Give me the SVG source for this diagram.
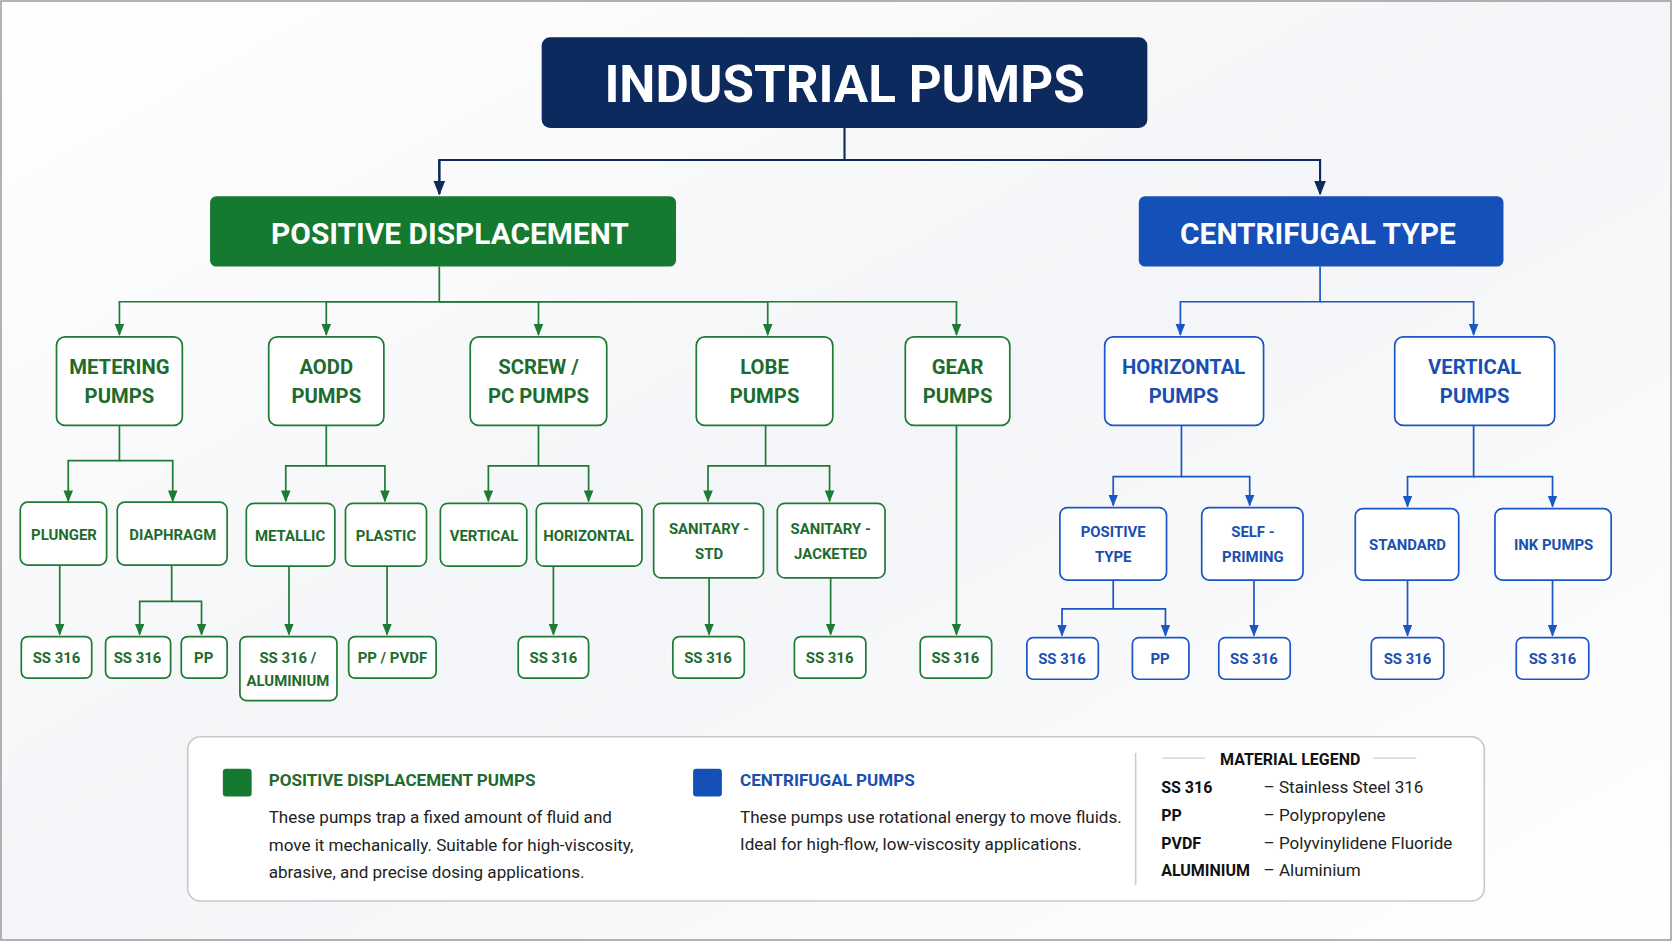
<svg xmlns="http://www.w3.org/2000/svg" width="1672" height="941" viewBox="0 0 1672 941">
<defs>
<marker id="ag" viewBox="0 0 10 10" refX="9" refY="5" markerWidth="7" markerHeight="7" orient="auto"><path d="M0,1 L10,5 L0,9 z" fill="#1e7a34"/></marker>
<marker id="ab" viewBox="0 0 10 10" refX="9" refY="5" markerWidth="7" markerHeight="7" orient="auto"><path d="M0,1 L10,5 L0,9 z" fill="#1a56c4"/></marker>
<marker id="an" viewBox="0 0 10 10" refX="9" refY="5" markerWidth="7" markerHeight="7" orient="auto"><path d="M0,1 L10,5 L0,9 z" fill="#0d2a5e"/></marker>
<linearGradient id="bg" x1="0" y1="0" x2="1" y2="1"><stop offset="0" stop-color="#ffffff"/><stop offset="0.5" stop-color="#f4f5f8"/><stop offset="1" stop-color="#ffffff"/></linearGradient>
</defs>
<style>
text{font-family:Roboto,"Liberation Sans",sans-serif}
.g rect{fill:#fff;stroke:#1e7a34;stroke-width:1.6}
.g text{fill:#1e6b2e;font-weight:bold;font-size:14px;text-anchor:middle}
.g.l2 text{font-size:19px}
.b rect{fill:#fff;stroke:#1a56c4;stroke-width:1.6}
.b text{fill:#1a4fb0;font-weight:bold;font-size:14px;text-anchor:middle}
.b.l2 text{font-size:19px}
.cg{fill:none;stroke:#1e7a34;stroke-width:1.6}
.cb{fill:none;stroke:#1a56c4;stroke-width:1.6}
.cn{fill:none;stroke:#0d2a5e;stroke-width:2}
.lt{font-size:16px;fill:#222}
.lk{font-size:15px;fill:#111;font-weight:bold}
</style>
<rect width="1672" height="941" fill="url(#bg)"/>
<rect x="1" y="1" width="1670" height="939" fill="none" stroke="#999" stroke-width="1.5"/>
<g transform="scale(1.0663)">
<g id="connectors">
<path class="cn" d="M792,120 V150 H412 V182 M792,150 H1238 V182" marker-end="url(#an)"/>
<path class="cn" d="M412,150 V182" marker-end="url(#an)"/>
<g class="cg" marker-end="url(#ag)">
<path d="M412,250 V283 H112 V314"/><path d="M412,283 H306 V314"/><path d="M412,283 H505 V314"/><path d="M412,283 H720 V314"/><path d="M412,283 H897 V314"/>
<path d="M112,399 V432 H64 V470"/><path d="M112,432 H162 V470"/>
<path d="M306,399 V437 H268 V470"/><path d="M306,437 H361 V470"/>
<path d="M505,399 V437 H458 V470"/><path d="M505,437 H552 V470"/>
<path d="M718,399 V437 H664 V470"/><path d="M718,437 H778 V470"/>
<path d="M897,399 V595"/>
<path d="M56,530 V595"/><path d="M161,530 V564 H131 V595"/><path d="M161,564 H189 V595"/>
<path d="M271,531 V595"/><path d="M363,531 V595"/><path d="M519,531 V595"/>
<path d="M665,542 V595"/><path d="M779,542 V595"/>
</g>
<g class="cb" marker-end="url(#ab)">
<path d="M1238,250 V283 H1107 V314"/><path d="M1238,283 H1382 V314"/>
<path d="M1108,399 V447 H1044 V474"/><path d="M1108,447 H1172 V474"/>
<path d="M1382,399 V447 H1320 V475"/><path d="M1382,447 H1456 V475"/>
<path d="M1044,544 V571 H996 V596"/><path d="M1044,571 H1093 V596"/>
<path d="M1176,544 V596"/><path d="M1320,544 V596"/><path d="M1456,544 V596"/>
</g>
</g>
<g id="title"><rect x="508" y="35" width="568" height="85" rx="8" fill="#0d2a5e"/><text x="792" y="96" text-anchor="middle" fill="#fff" font-weight="bold" font-size="48">INDUSTRIAL PUMPS</text></g>
<g id="pd"><rect x="197" y="184" width="437" height="66" rx="6" fill="#157a30"/><text x="422" y="229" text-anchor="middle" fill="#fff" font-weight="bold" font-size="28">POSITIVE DISPLACEMENT</text></g>
<g id="ct"><rect x="1068" y="184" width="342" height="66" rx="6" fill="#1450b8"/><text x="1236" y="229" text-anchor="middle" fill="#fff" font-weight="bold" font-size="28">CENTRIFUGAL TYPE</text></g>
<g id="metering" class="g l2"><rect x="53" y="316" width="118" height="83" rx="8"/><text x="112" y="351">METERING</text><text x="112" y="378">PUMPS</text></g>
<g id="aodd" class="g l2"><rect x="252" y="316" width="108" height="83" rx="8"/><text x="306" y="351">AODD</text><text x="306" y="378">PUMPS</text></g>
<g id="screw" class="g l2"><rect x="441" y="316" width="128" height="83" rx="8"/><text x="505" y="351">SCREW /</text><text x="505" y="378">PC PUMPS</text></g>
<g id="lobe" class="g l2"><rect x="653" y="316" width="128" height="83" rx="8"/><text x="717" y="351">LOBE</text><text x="717" y="378">PUMPS</text></g>
<g id="gear" class="g l2"><rect x="849" y="316" width="98" height="83" rx="8"/><text x="898" y="351">GEAR</text><text x="898" y="378">PUMPS</text></g>
<g id="horizontal" class="b l2"><rect x="1036" y="316" width="149" height="83" rx="8"/><text x="1110" y="351">HORIZONTAL</text><text x="1110" y="378">PUMPS</text></g>
<g id="vertical" class="b l2"><rect x="1308" y="316" width="150" height="83" rx="8"/><text x="1383" y="351">VERTICAL</text><text x="1383" y="378">PUMPS</text></g>
<g id="plunger" class="g"><rect x="19" y="471" width="81" height="59" rx="7"/><text x="60" y="506">PLUNGER</text></g>
<g id="diaphragm" class="g"><rect x="110" y="471" width="103" height="59" rx="7"/><text x="162" y="506">DIAPHRAGM</text></g>
<g id="metallic" class="g"><rect x="231" y="472" width="83" height="59" rx="7"/><text x="272" y="507">METALLIC</text></g>
<g id="plastic" class="g"><rect x="324" y="472" width="76" height="59" rx="7"/><text x="362" y="507">PLASTIC</text></g>
<g id="vert-screw" class="g"><rect x="413" y="472" width="81" height="59" rx="7"/><text x="454" y="507">VERTICAL</text></g>
<g id="horiz-screw" class="g"><rect x="503" y="472" width="99" height="59" rx="7"/><text x="552" y="507">HORIZONTAL</text></g>
<g id="san-std" class="g"><rect x="613" y="472" width="103" height="70" rx="7"/><text x="665" y="501">SANITARY -</text><text x="665" y="524">STD</text></g>
<g id="san-jack" class="g"><rect x="729" y="472" width="101" height="70" rx="7"/><text x="779" y="501">SANITARY -</text><text x="779" y="524">JACKETED</text></g>
<g id="pos-type" class="b"><rect x="994" y="476" width="100" height="68" rx="7"/><text x="1044" y="504">POSITIVE</text><text x="1044" y="527">TYPE</text></g>
<g id="self-prim" class="b"><rect x="1127" y="476" width="95" height="68" rx="7"/><text x="1175" y="504">SELF -</text><text x="1175" y="527">PRIMING</text></g>
<g id="standard" class="b"><rect x="1271" y="477" width="97" height="67" rx="7"/><text x="1320" y="516">STANDARD</text></g>
<g id="ink" class="b"><rect x="1402" y="477" width="109" height="67" rx="7"/><text x="1457" y="516">INK PUMPS</text></g>
<g id="m1" class="g"><rect x="20" y="597" width="66" height="39" rx="6"/><text x="53" y="622">SS 316</text></g>
<g id="m2" class="g"><rect x="99" y="597" width="61" height="39" rx="6"/><text x="129" y="622">SS 316</text></g>
<g id="m3" class="g"><rect x="170" y="597" width="43" height="39" rx="6"/><text x="191" y="622">PP</text></g>
<g id="m4" class="g"><rect x="225" y="597" width="91" height="60" rx="6"/><text x="270" y="622">SS 316 /</text><text x="270" y="643">ALUMINIUM</text></g>
<g id="m5" class="g"><rect x="327" y="597" width="82" height="39" rx="6"/><text x="368" y="622">PP / PVDF</text></g>
<g id="m6" class="g"><rect x="486" y="597" width="66" height="39" rx="6"/><text x="519" y="622">SS 316</text></g>
<g id="m7" class="g"><rect x="631" y="597" width="67" height="39" rx="6"/><text x="664" y="622">SS 316</text></g>
<g id="m8" class="g"><rect x="745" y="597" width="67" height="39" rx="6"/><text x="778" y="622">SS 316</text></g>
<g id="m9" class="g"><rect x="863" y="597" width="67" height="39" rx="6"/><text x="896" y="622">SS 316</text></g>
<g id="m10" class="b"><rect x="963" y="598" width="67" height="39" rx="6"/><text x="996" y="623">SS 316</text></g>
<g id="m11" class="b"><rect x="1062" y="598" width="53" height="39" rx="6"/><text x="1088" y="623">PP</text></g>
<g id="m12" class="b"><rect x="1143" y="598" width="67" height="39" rx="6"/><text x="1176" y="623">SS 316</text></g>
<g id="m13" class="b"><rect x="1286" y="598" width="68" height="39" rx="6"/><text x="1320" y="623">SS 316</text></g>
<g id="m14" class="b"><rect x="1422" y="598" width="68" height="39" rx="6"/><text x="1456" y="623">SS 316</text></g>
<g id="legend">
<rect x="176" y="691" width="1216" height="154" rx="12" fill="#fff" stroke="#c8c8c8" stroke-width="1.5"/>
<rect x="209" y="721" width="27" height="26" rx="3" fill="#157a30"/>
<text x="252" y="737" font-size="16" font-weight="bold" fill="#1e6b2e">POSITIVE DISPLACEMENT PUMPS</text>
<text class="lt" x="252" y="772">These pumps trap a fixed amount of fluid and</text>
<text class="lt" x="252" y="798">move it mechanically. Suitable for high-viscosity,</text>
<text class="lt" x="252" y="823">abrasive, and precise dosing applications.</text>
<rect x="650" y="721" width="27" height="26" rx="3" fill="#1450b8"/>
<text x="694" y="737" font-size="16" font-weight="bold" fill="#1a4fb0">CENTRIFUGAL PUMPS</text>
<text class="lt" x="694" y="772">These pumps use rotational energy to move fluids.</text>
<text class="lt" x="694" y="797">Ideal for high-flow, low-viscosity applications.</text>
<line x1="1065" y1="706" x2="1065" y2="830" stroke="#ccc" stroke-width="1.5"/>
<line x1="1090" y1="711" x2="1130" y2="711" stroke="#ccc"/><line x1="1288" y1="711" x2="1328" y2="711" stroke="#ccc"/>
<text x="1210" y="717" text-anchor="middle" font-size="15" font-weight="bold" fill="#111">MATERIAL LEGEND</text>
<text class="lk" x="1089" y="744">SS 316</text><text class="lt" x="1185" y="744" font-size="15">– Stainless Steel 316</text>
<text class="lk" x="1089" y="770">PP</text><text class="lt" x="1185" y="770" font-size="15">– Polypropylene</text>
<text class="lk" x="1089" y="796">PVDF</text><text class="lt" x="1185" y="796" font-size="15">– Polyvinylidene Fluoride</text>
<text class="lk" x="1089" y="822">ALUMINIUM</text><text class="lt" x="1185" y="822" font-size="15">– Aluminium</text>
</g>
</g>
</svg>
